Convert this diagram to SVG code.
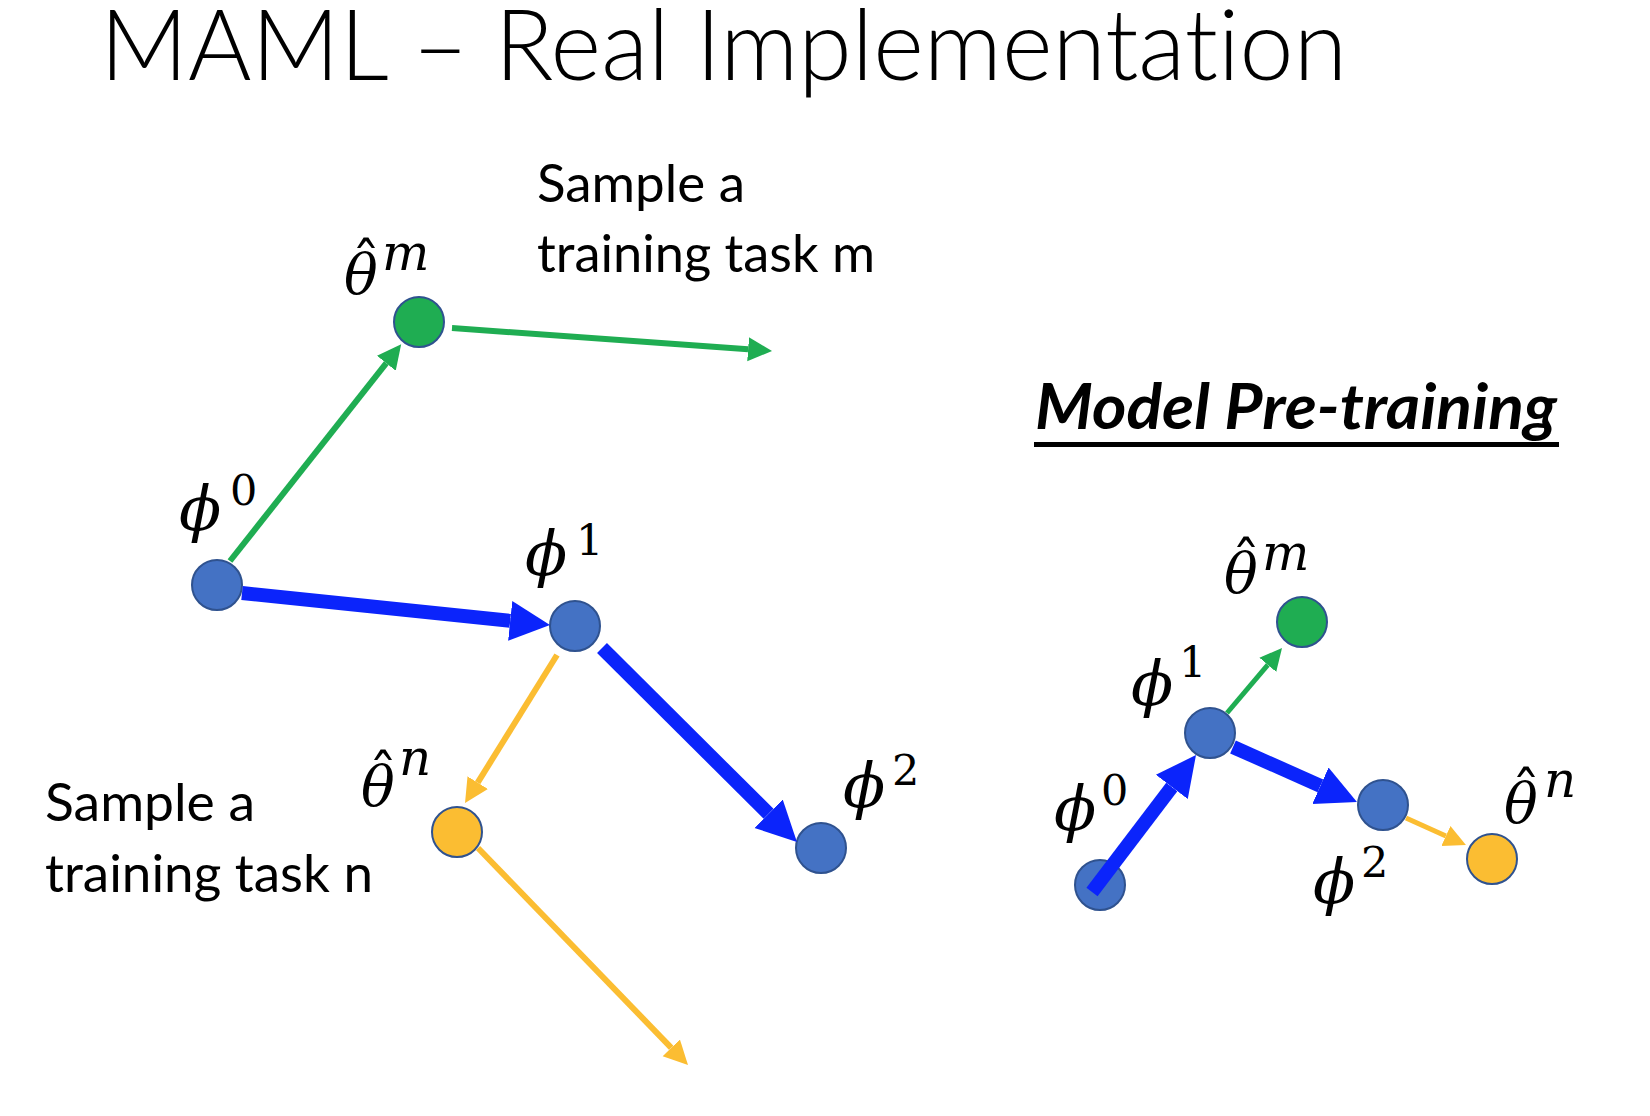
<svg xmlns="http://www.w3.org/2000/svg" width="1650" height="1116" viewBox="0 0 1650 1116">
<style>
text{font-variant-ligatures:none;font-feature-settings:"liga" 0,"clig" 0}
.title{font-family:Lato,"Open Sans","Liberation Sans",sans-serif;font-weight:300;font-size:98px;fill:#000}
.body{font-family:Lato,"Open Sans","Liberation Sans",sans-serif;font-size:52px;fill:#000}
.head{font-family:Lato,"Open Sans","Liberation Sans",sans-serif;font-weight:bold;font-style:italic;font-size:63px;fill:#000}
.mi{font-family:"DejaVu Serif",serif;font-style:italic;font-size:62px;fill:#000}
.th{font-family:"DejaVu Serif",serif;font-style:italic;font-size:56px;fill:#000}
.hat{font-family:"DejaVu Serif",serif;font-size:58px;fill:#000;text-anchor:middle}
.sup{font-family:"DejaVu Serif",serif;font-size:43px;fill:#000}
.supi{font-family:"DejaVu Serif",serif;font-style:italic;font-size:50px;fill:#000}
.nb{fill:#4472C4;stroke:#2F528F;stroke-width:2}
.ng{fill:#1FAD52;stroke:#2F528F;stroke-width:2}
.ny{fill:#FBBD32;stroke:#2F528F;stroke-width:2}
.cb{stroke:#0B24FB;stroke-width:14;fill:none}
.cg{stroke:#1FAD52;stroke-width:6;fill:none}
.cy{stroke:#FBBD32;stroke-width:6;fill:none}
</style>
<defs>
<marker id="ab" markerUnits="userSpaceOnUse" markerWidth="42" markerHeight="42" viewBox="0 -21 42 42" refX="0" refY="0" orient="auto"><path d="M0,-20 L40,0 L0,20 Z" fill="#0B24FB"/></marker>
<marker id="ag" markerUnits="userSpaceOnUse" markerWidth="26" markerHeight="26" viewBox="0 -13 26 26" refX="0" refY="0" orient="auto"><path d="M0,-12 L24,0 L0,12 Z" fill="#1FAD52"/></marker>
<marker id="ay" markerUnits="userSpaceOnUse" markerWidth="26" markerHeight="26" viewBox="0 -13 26 26" refX="0" refY="0" orient="auto"><path d="M0,-12 L24,0 L0,12 Z" fill="#FBBD32"/></marker>
<marker id="ag2" markerUnits="userSpaceOnUse" markerWidth="24" markerHeight="24" viewBox="0 -12 24 24" refX="0" refY="0" orient="auto"><path d="M0,-11 L22,0 L0,11 Z" fill="#1FAD52"/></marker>
<marker id="ay2" markerUnits="userSpaceOnUse" markerWidth="24" markerHeight="24" viewBox="0 -12 24 24" refX="0" refY="0" orient="auto"><path d="M0,-11 L22,0 L0,11 Z" fill="#FBBD32"/></marker>
</defs>
<rect width="1650" height="1116" fill="#fff"/>

<g id="title"><text class="title" x="100" y="80" textLength="1247" lengthAdjust="spacingAndGlyphs">MAML – Real Implementation</text></g>

<g id="text-task-m">
<text class="body" x="537" y="202" textLength="208" lengthAdjust="spacingAndGlyphs">Sample a</text>
<text class="body" x="537" y="272" textLength="338" lengthAdjust="spacingAndGlyphs">training task m</text>
</g>
<g id="text-task-n">
<text class="body" x="45" y="821" textLength="210" lengthAdjust="spacingAndGlyphs">Sample a</text>
<text class="body" x="45" y="892" textLength="328" lengthAdjust="spacingAndGlyphs">training task n</text>
</g>
<g id="heading">
<text class="head" x="1035" y="429" textLength="522" lengthAdjust="spacingAndGlyphs">Model Pre-training</text>
<rect x="1034" y="442" width="525" height="5" fill="#000"/>
</g>

<!-- left diagram nodes -->
<g id="L-phi0"><circle class="nb" cx="217" cy="585" r="25"/><text x="179" y="530"><tspan class="mi">ϕ</tspan><tspan class="sup" x="230" y="505">0</tspan></text></g>
<g id="L-theta-m"><circle class="ng" cx="419" cy="322" r="25"/><text class="hat" x="366" y="284">ˆ</text><text x="344" y="294"><tspan class="th">θ</tspan><tspan class="supi" x="382" y="270">m</tspan></text></g>
<g id="L-phi1"><circle class="nb" cx="575" cy="626" r="25"/><text x="525" y="575"><tspan class="mi">ϕ</tspan><tspan class="sup" x="576" y="555">1</tspan></text></g>
<g id="L-phi2"><circle class="nb" cx="821" cy="848" r="25"/><text x="843" y="807"><tspan class="mi">ϕ</tspan><tspan class="sup" x="892" y="785">2</tspan></text></g>
<g id="L-theta-n"><circle class="ny" cx="457" cy="832" r="25"/><text class="hat" x="383" y="796">ˆ</text><text x="361" y="806"><tspan class="th">θ</tspan><tspan class="supi" x="399" y="775">n</tspan></text></g>

<!-- right diagram nodes -->
<g id="R-phi0"><circle class="nb" cx="1100" cy="885" r="25"/><text x="1054" y="830"><tspan class="mi">ϕ</tspan><tspan class="sup" x="1101" y="805">0</tspan></text></g>
<g id="R-phi1"><circle class="nb" cx="1210" cy="733" r="25"/><text x="1131" y="705"><tspan class="mi">ϕ</tspan><tspan class="sup" x="1179" y="677">1</tspan></text></g>
<g id="R-theta-m"><circle class="ng" cx="1302" cy="622" r="25"/><text class="hat" x="1246" y="583">ˆ</text><text x="1224" y="593"><tspan class="th">θ</tspan><tspan class="supi" x="1262" y="570">m</tspan></text></g>
<g id="R-phi2"><circle class="nb" cx="1383" cy="805" r="25"/><text x="1313" y="903"><tspan class="mi">ϕ</tspan><tspan class="sup" x="1361" y="877">2</tspan></text></g>
<g id="R-theta-n"><circle class="ny" cx="1492" cy="859" r="25"/><text class="hat" x="1526" y="813">ˆ</text><text x="1504" y="823"><tspan class="th">θ</tspan><tspan class="supi" x="1544" y="797">n</tspan></text></g>

<g id="connectors">
<line class="cg" x1="230" y1="561" x2="386.3" y2="363.2" marker-end="url(#ag)"/>
<line class="cg" x1="452" y1="328" x2="748.1" y2="349.3" marker-end="url(#ag)"/>
<line class="cb" x1="242" y1="593" x2="510.2" y2="620.9" marker-end="url(#ab)"/>
<line class="cb" x1="602" y1="648" x2="768.6" y2="813.8" marker-end="url(#ab)"/>
<line class="cy" x1="557" y1="655" x2="477.7" y2="782.6" marker-end="url(#ay)"/>
<line class="cy" x1="478" y1="848" x2="671.3" y2="1047.8" marker-end="url(#ay)"/>
<line class="cg" style="stroke-width:5" x1="1227" y1="713" x2="1267.8" y2="664.8" marker-end="url(#ag2)"/>
<line class="cb" x1="1092" y1="892" x2="1171.8" y2="786.9" marker-end="url(#ab)"/>
<line class="cb" x1="1233" y1="747" x2="1320.4" y2="785.8" marker-end="url(#ab)"/>
<line class="cy" style="stroke-width:5" x1="1406" y1="818" x2="1445.9" y2="836" marker-end="url(#ay2)"/>
</g>
</svg>
